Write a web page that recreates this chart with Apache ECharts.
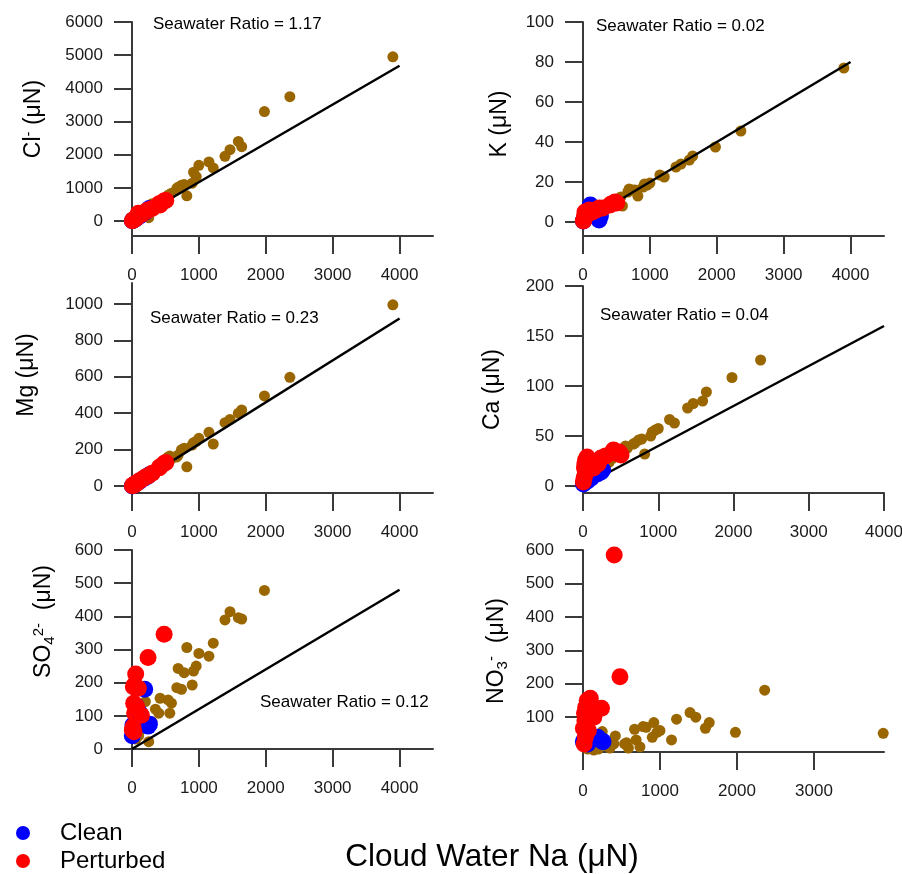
<!DOCTYPE html>
<html><head><meta charset="utf-8">
<script src="https://cdn.jsdelivr.net/npm/echarts@6/dist/echarts.min.js"></script>
<style>html,body{margin:0;padding:0;background:#fff}#c{width:902px;height:874px}</style>
</head><body><div id="c"></div>
<script>
// ---------- DATA ----------
// Marine (brown) samples: cloud water Na and companion ions (µN)
const naBrown  = [3900,2360,1980,1640,1590,1465,1390,1215,1150,1000,960,920,900,820,780,740,690,670,590,565,540,420,400,350,300,250,200,140,100,60];
const clBrown  = [4950,3750,3300,2240,2400,2150,1950,1600,1780,1680,1340,1470,1140,760,1100,1080,1020,980,840,800,780,620,580,500,520,100,300,180,130,80];
const kBrown   = [77,45.5,37.5,33,31,29,27.5,22.5,23.5,19.5,18.5,19,17.5,13,16,16,16.5,15,8,12.5,11,9,8.5,7.5,6,2,4.5,3,2,1.5];
const mgBrown  = [995,597,495,418,400,366,348,231,295,262,245,238,225,106,208,200,170,160,150,165,160,110,100,90,80,40,55,35,25,15];
const caBrown  = [null,126,108.5,94,85,82.5,78,63,66.5,57.5,56,54,50,32,47,46,43,42,38,40,36,30,28,24,20,14,14,10,7,5];
const so4Brown = [null,null,478,392,396,414,389,319,280,288,250,235,193,306,230,180,243,185,138,108,148,153,108,120,82,22,143,60,40,30];
const no3Brown = [52,181,55,84,67,100,114,94,32,60,55,84,40,70,72,11,32,64,8,24,20,44,20,8,15,57,5,2,10,5];

// Clean samples
const naClean  = [5,15,30,60,110,190,240,260];
const clClean  = [5,20,40,70,140,260,330,380];
const kClean   = [0.5,1,2,3,8.5,4,1,3];
const mgClean  = [1,3,7,14,25,45,55,62];
const caClean  = [2,3,4,5,8,12,14,16];
const so4Clean = [40,72,60,130,110,180,69,75];
const no3Clean = [27,30,25,20,35,40,30,27];

// Perturbed samples
const naPert  = [5,15,20,25,30,35,40,55,70,95,140,200,240,300,405,420,480,505];
const clPert  = [10,25,30,40,45,55,60,80,100,232,200,280,330,380,520,480,600,620];
const kPert   = [0.5,1,2,3,5,4,3,5,4,6,5,6,7,7,8.5,9,10,9.5];
const mgPert  = [2,4,5,6,7,8,9,12,15,25,35,50,55,70,100,106,124,130];
const caPert  = [4,8,18,22,12,26,15,29,25,20,18,22,28,30,36,33,34,31];
const so4Pert = [57,67,188,138,52,193,108,226,128,183,102,null,276,null,null,null,346,null];
const no3Pert = [67,20,112,90,40,130,75,150,60,157,100,null,127,null,585,null,221,null];

// Seawater ratios (ion / Na)
const seawaterRatios = [1.17, 0.02, 0.23, 0.04, 0.12];
const ratioLineEndNa = 4000;

// Tick labels
const xTicks    = [0,1000,2000,3000,4000];
const xTicksNO3 = [0,1000,2000,3000];
const clTicks   = [0,1000,2000,3000,4000,5000,6000];
const kTicks    = [0,20,40,60,80,100];
const mgTicks   = [0,200,400,600,800,1000];
const caTicks   = [0,50,100,150,200];
const so4Ticks  = [0,100,200,300,400,500,600];
const no3Ticks  = [100,200,300,400,500,600];

// ---------- BUILD ----------
const FONT = "'Liberation Sans', Arial, Helvetica, sans-serif";
const AX = '#3a3a3a';
const pairs = (xs, ys) => xs.map((x, i) => ys[i] == null ? null : [x, ys[i]]).filter(Boolean);

const panels = [
  {left:132, top:22,  bottom:236, xMax:4500, xT:xTicks,    yMin:-452, yMax:6000, yT:clTicks,  name:'Cl{sup|-} (μN)', gap:85, shift:10, b:clBrown,  c:clClean,  p:clPert,  r:0, rt:[153,24]},
  {left:583, top:22,  bottom:236, xMax:4500, xT:xTicks,    yMin:-7,   yMax:100,  yT:kTicks,   name:'K (μN)',         gap:70, shift:5,  b:kBrown,   c:kClean,   p:kPert,   r:1, rt:[596,26]},
  {left:132, top:283, bottom:493, xMax:4500, xT:xTicks,    yMin:-38,  yMax:1115, yT:mgTicks,  name:'Mg (μN)',        gap:92, shift:13, b:mgBrown,  c:mgClean,  p:mgPert,  r:2, rt:[150,318]},
  {left:583, top:286, bottom:493, xMax:4000, xT:xTicks,    yMin:-7,   yMax:200,  yT:caTicks,  name:'Ca (μN)',        gap:77, shift:0,  b:caBrown,  c:caClean,  p:caPert,  r:3, rt:[600,315]},
  {left:132, top:550, bottom:749, xMax:4500, xT:xTicks,    yMin:0,    yMax:600,  yT:so4Ticks, name:'SO{sub|4}{sup|2-}  (μN)', gap:75, shift:28, b:so4Brown, c:so4Clean, p:so4Pert, r:4, rt:[260,702]},
  {left:583, top:550, bottom:752, xMax:3910, xT:xTicksNO3, yMin:-4,   yMax:600,  yT:no3Ticks, name:'NO{sub|3}{sup|-}  (μN)',  gap:73, shift:0,  b:no3Brown, c:no3Clean, p:no3Pert, r:null, rt:null}
];

const grid = [], xAxis = [], yAxis = [], series = [], graphic = [];
const labelStyle = {fontSize:17, color:'#1a1a1a', fontFamily:FONT, formatter: v => String(v)};
panels.forEach((P, i) => {
  grid.push({left:P.left, top:P.top, width:301, height:P.bottom - P.top, containLabel:false, outerBoundsMode:'none'});
  xAxis.push({
    type:'value', gridIndex:i, min:0, max:P.xMax,
    axisLine:{show:true, onZero:false, lineStyle:{color:AX, width:2}},
    axisTick:{show:true, length:18, customValues:P.xT, lineStyle:{color:AX, width:2}},
    axisLabel:Object.assign({customValues:P.xT, margin:31, showMinLabel:true, showMaxLabel:true}, labelStyle),
    splitLine:{show:false}
  });
  yAxis.push({
    type:'value', gridIndex:i, min:P.yMin, max:P.yMax,
    name:P.name, nameLocation:'middle', nameGap:P.gap,
    nameTextStyle:{fontSize:23, color:'#000', fontFamily:FONT, lineHeight:26, padding:[0,0,0,P.shift*2],
      rich:{
        sup:{fontSize:15, fontFamily:FONT, color:'#000', verticalAlign:'top', lineHeight:15, padding:[0,0,12,0]},
        sub:{fontSize:15, fontFamily:FONT, color:'#000', verticalAlign:'bottom', lineHeight:15, padding:[8,0,0,0]}
      }},
    axisLine:{show:true, onZero:false, lineStyle:{color:AX, width:2}},
    axisTick:{show:true, length:18, customValues:P.yT, lineStyle:{color:AX, width:2}},
    axisLabel:Object.assign({customValues:P.yT, margin:29}, labelStyle),
    splitLine:{show:false}
  });
  series.push({type:'scatter', name:'Marine', xAxisIndex:i, yAxisIndex:i, data:pairs(naBrown, P.b),
    symbolSize:11, itemStyle:{color:'#996600', opacity:1}, clip:false, z:2});
  if (P.r != null) {
    const ratio = seawaterRatios[P.r];
    series.push({type:'line', name:'Seawater', xAxisIndex:i, yAxisIndex:i,
      data:[[0,0],[ratioLineEndNa, ratio*ratioLineEndNa]], symbol:'none', silent:true,
      lineStyle:{color:'#000', width:2.5}, clip:false, z:3});
    graphic.push({type:'text', x:P.rt[0], y:P.rt[1],
      style:{text:'Seawater Ratio = ' + ratio.toFixed(2), fontSize:17, fontFamily:FONT, fill:'#000',
        textAlign:'left', textVerticalAlign:'middle'}});
  }
  series.push({type:'scatter', name:'Clean', xAxisIndex:i, yAxisIndex:i, data:pairs(naClean, P.c),
    symbolSize:17, itemStyle:{color:'#0000ff', opacity:1}, clip:false, z:4});
  series.push({type:'scatter', name:'Perturbed', xAxisIndex:i, yAxisIndex:i, data:pairs(naPert, P.p),
    symbolSize:17, itemStyle:{color:'#ff0000', opacity:1}, clip:false, z:5});
});

graphic.push({type:'text', x:492, y:857,
  style:{text:'Cloud Water Na (μN)', fontSize:31.5, fontFamily:FONT, fill:'#000', textAlign:'center', textVerticalAlign:'middle'}});

const chart = echarts.init(document.getElementById('c'), null, {renderer:'canvas'});
chart.setOption({
  animation:false,
  backgroundColor:'#fff',
  grid, xAxis, yAxis, series, graphic,
  legend:{
    orient:'vertical', left:16, top:821, padding:0, itemWidth:14, itemHeight:14, itemGap:4,
    selectedMode:false,
    data:[{name:'Clean', icon:'circle'}, {name:'Perturbed', icon:'circle'}],
    textStyle:{fontSize:24, color:'#000', fontFamily:FONT, lineHeight:24, padding:[0,0,0,25]}
  }
});
</script>
</body></html>
